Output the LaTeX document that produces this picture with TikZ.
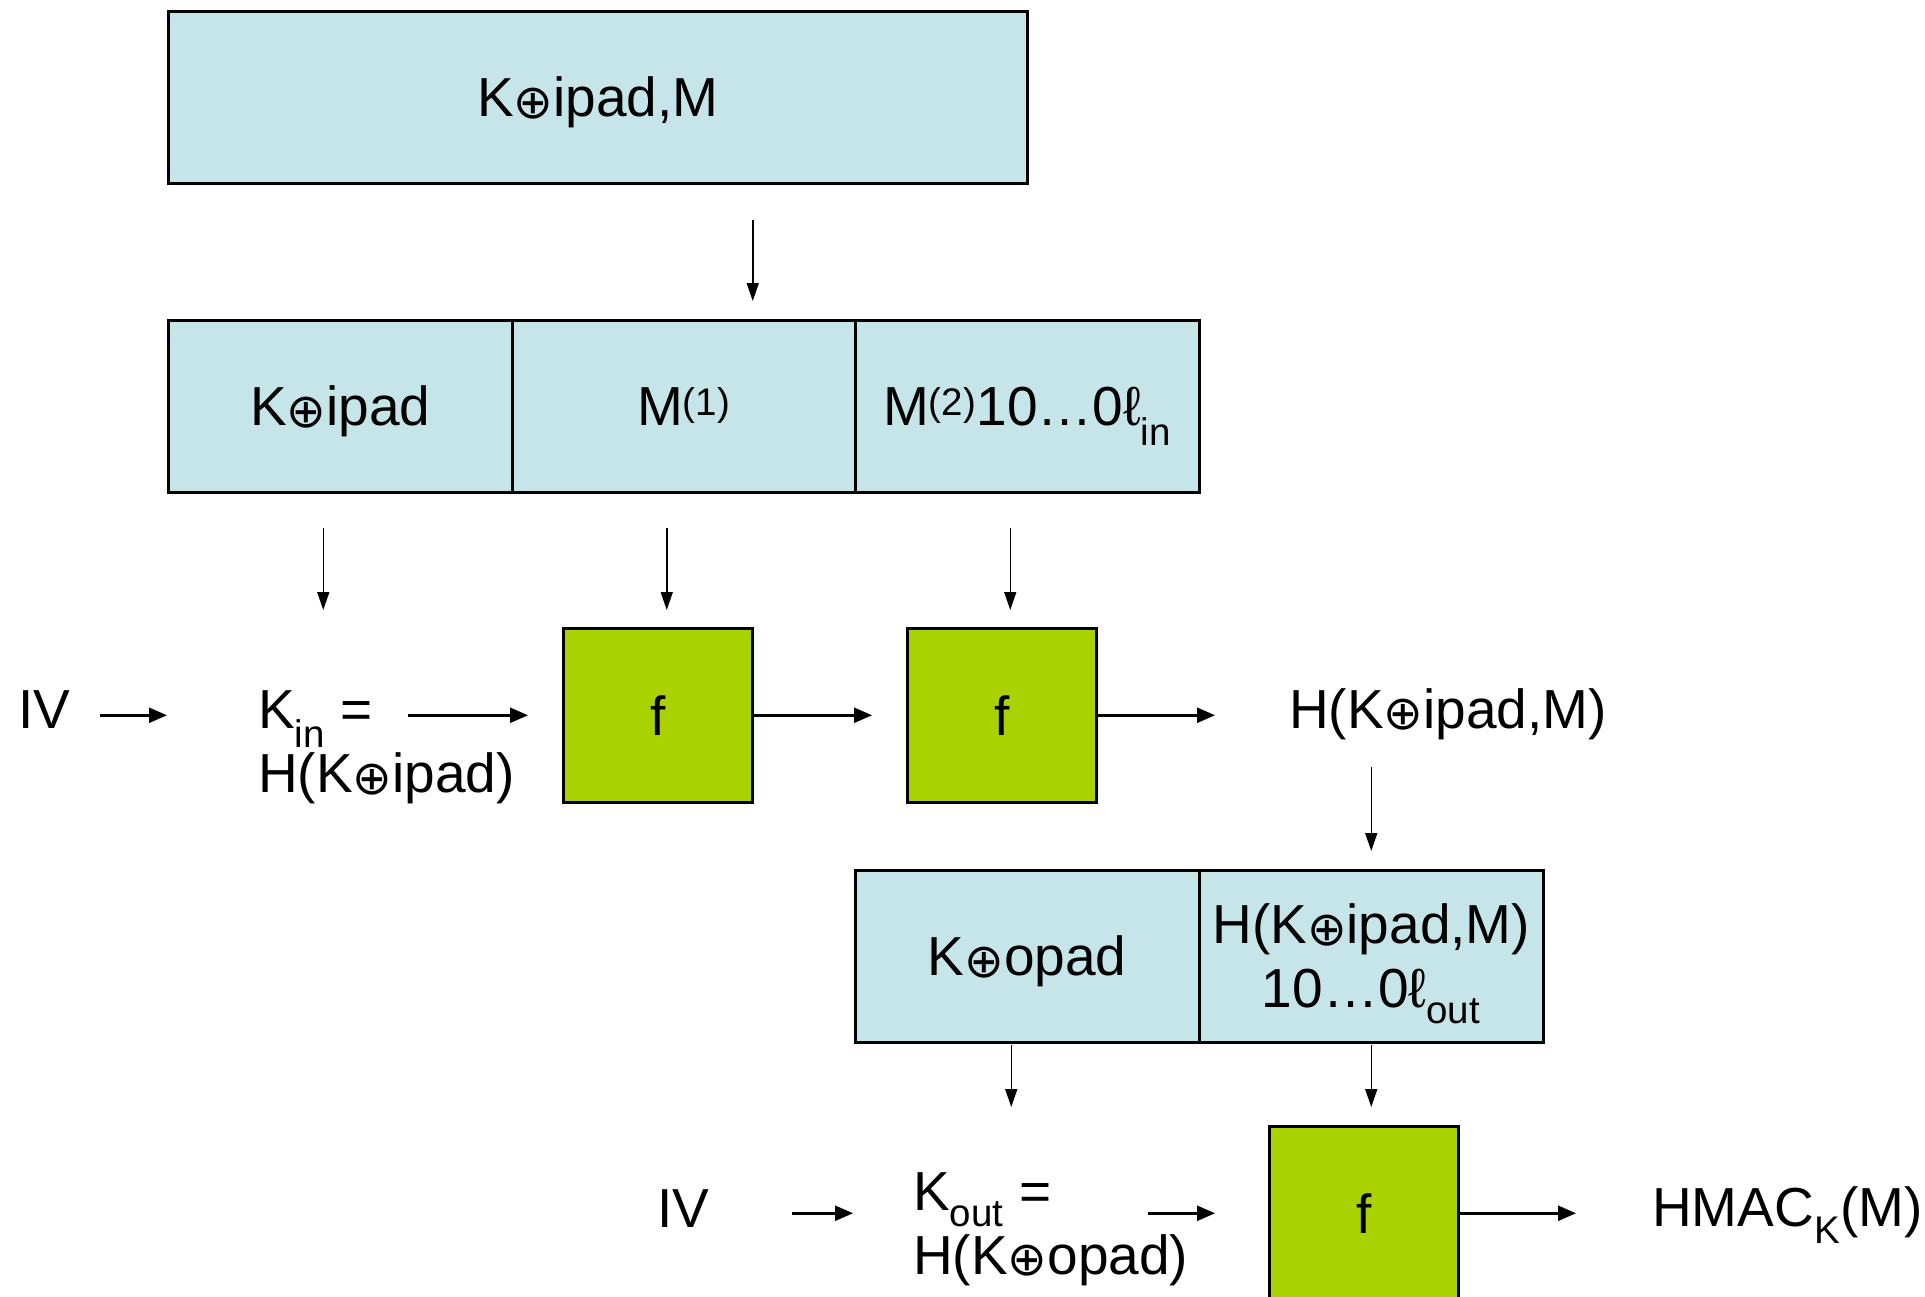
\documentclass[tikz,border=0pt]{standalone}
\usepackage{fontspec}
\setmainfont{Liberation Sans}
\newfontfamily\symfont{DejaVu Sans}[Scale=0.86]
\usetikzlibrary{arrows.meta}
\definecolor{padblue}{RGB}{197,229,232}
\definecolor{fgreen}{RGB}{170,210,0}
\newcommand\xo{{\symfont\raisebox{-0.04em}{⊕}}}
\newcommand\twolines[2]{\begin{tabular}[t]{@{}l@{}}#1\\#2\end{tabular}}
\newcommand\twocentred[2]{\begin{tabular}[t]{@{}c@{}}#1\\#2\end{tabular}}

\begin{document}
\begin{tikzpicture}[x=1pt,y=-1pt,
  every node/.style={font=\fontsize{55}{64}\selectfont, inner sep=0pt},
  blk/.style={draw, line width=2.5pt, fill=padblue, anchor=north west,
    minimum height=172pt, text height=39pt, text depth=0pt},
  fbox/.style={draw, line width=2.5pt, fill=fgreen, anchor=north west,
    minimum width=189pt, minimum height=174pt, text height=40pt, text depth=0pt},
  lbl/.style={anchor=base west},
  varr/.style={-{Triangle[length=18pt,width=12pt]}, line width=1.5pt},
  harr/.style={-{Triangle[length=18pt,width=15pt]}, line width=2.5pt}]
\useasboundingbox (0,0) rectangle (1925,1296);
\clip (0,0) rectangle (1925,1296);

% inner hash: padded key followed by the message blocks
\node[blk, minimum width=859pt] (top) at (167,10) {K\xo ipad,M};
\node[blk, minimum width=344pt] (kipad) at (167,319) {K\xo ipad};
\node[blk, minimum width=343pt] (m1) at (511,319) {M\textsuperscript{(1)}};
\node[blk, minimum width=344pt] (m2) at (854,319) {M\textsuperscript{(2)}10\dots0ℓ\textsubscript{in}};

\node[fbox] (f1) at (562,627) {f};
\node[fbox] (f2) at (906,627) {f};

\node[lbl] (iv1) at (18,728) {IV};
\node[lbl] (kin) at (258,728) {\twolines{K\textsubscript{in} =}{H(K\xo ipad)}};
\node[lbl] (hin) at (1289,728) {H(K\xo ipad,M)};

% outer hash
\node[blk, minimum width=344pt] (kopad) at (854,869) {K\xo opad};
\node[blk, minimum width=344pt, text depth=65pt] (hpad) at (1198,869)
  {\twocentred{H(K\xo ipad,M)}{10\dots0ℓ\textsubscript{out}}};

\node[fbox] (f3) at (1268,1125) {f};

\node[lbl] (iv2) at (657,1227) {IV};
\node[lbl] (kout) at (913,1210) {\twolines{K\textsubscript{out} =}{H(K\xo opad)}};
\node[lbl] (hmac) at (1652,1226) {HMAC\textsubscript{K}(M)};

% vertical connectors
\draw[varr, shorten <=35pt, shorten >=18pt]
  ([xshift=155pt]top.south) -- ([xshift=155pt]top.south |- m1.north);
\draw[varr, shorten <=34pt, shorten >=17pt]
  ([xshift=-17pt]kipad.south) -- ([xshift=-17pt]kipad.south |- f1.north);
\draw[varr, shorten <=34pt, shorten >=17pt]
  ([xshift=-17pt]m1.south) -- ([xshift=-17pt]m1.south |- f1.north);
\draw[varr, shorten <=34pt, shorten >=17pt]
  ([xshift=-17pt]m2.south) -- ([xshift=-17pt]m2.south |- f2.north);
\draw[varr, shorten <=27pt, shorten >=18pt]
  (hpad.north |- hin.south) -- (hpad.north);
\draw[varr, shorten <=1pt, shorten >=18pt]
  ([xshift=-16pt]kopad.south) -- ([xshift=-16pt]kopad.south |- f3.north);
\draw[varr, shorten <=1pt, shorten >=18pt]
  (hpad.south) -- (hpad.south |- f3.north);

% horizontal connectors
\draw[harr, shorten <=30pt, shorten >=91pt] (iv1.east |- f1.west) -- (kin.west |- f1.west);
\draw[harr, shorten >=34pt] ([xshift=-154pt]f1.west) -- (f1.west);
\draw[harr, shorten >=34pt] (f1.east) -- (f2.west);
\draw[harr, shorten >=74pt] (f2.east) -- (hin.west |- f2.east);
\draw[harr, shorten <=83pt, shorten >=60pt] (iv2.east |- f3.west) -- (kout.west |- f3.west);
\draw[harr, shorten >=53pt] ([xshift=-120pt]f3.west) -- (f3.west);
\draw[harr, shorten >=76pt] (f3.east) -- (hmac.west |- f3.east);
\end{tikzpicture}
\end{document}
